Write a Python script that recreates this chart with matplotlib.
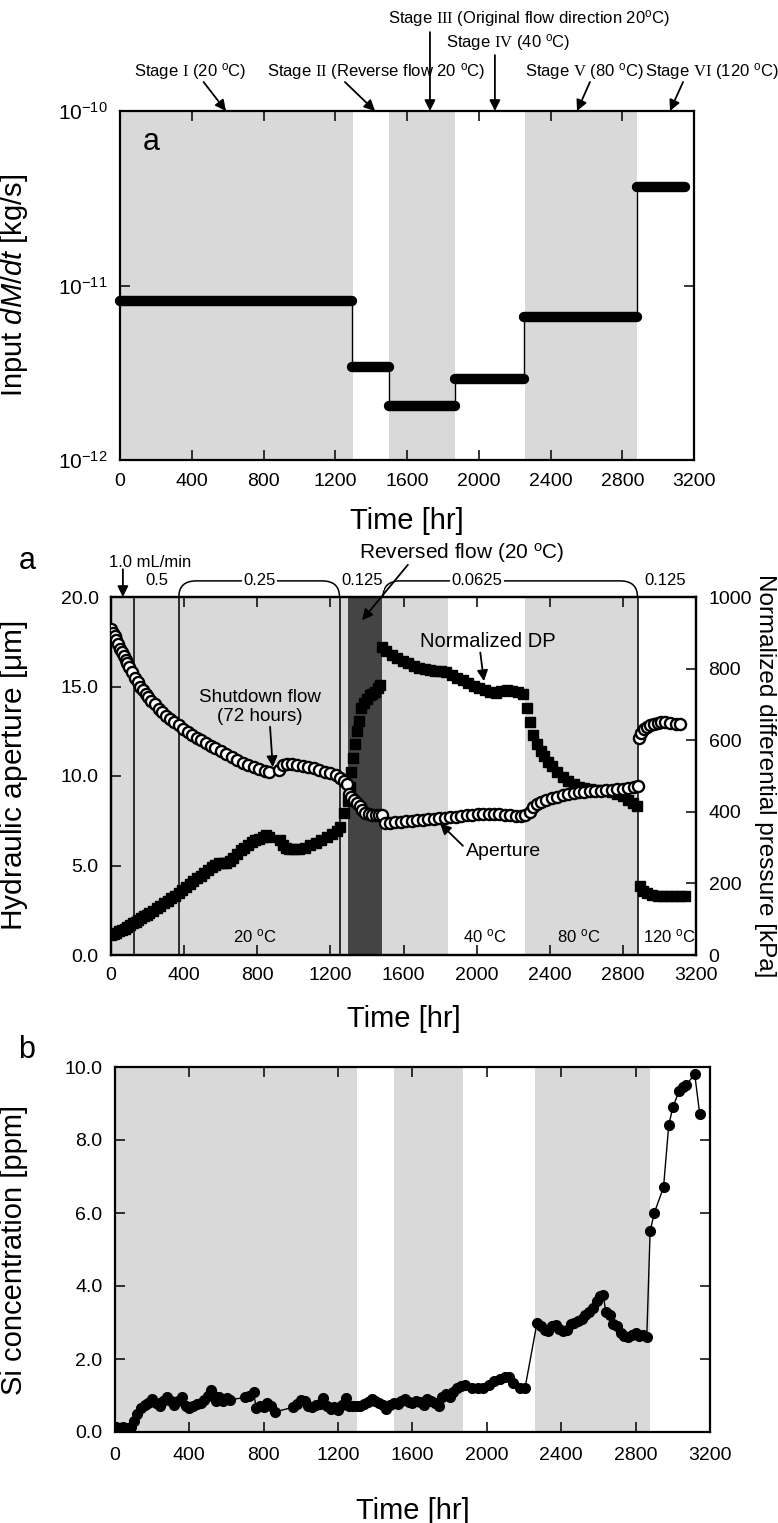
import matplotlib
matplotlib.use("Agg")
import matplotlib.pyplot as plt
from matplotlib.path import Path
from matplotlib.patches import PathPatch
from matplotlib.ticker import NullLocator

plt.rcParams['font.family'] = ['Liberation Sans', 'DejaVu Sans']
plt.rcParams['mathtext.fontset'] = 'custom'
plt.rcParams['mathtext.rm'] = 'Liberation Sans'
plt.rcParams['mathtext.it'] = 'Liberation Sans:italic'
plt.rcParams['mathtext.tt'] = 'Liberation Serif'

# ---- panel 1: input mass rate per stage
flow_start = [0, 1295, 1500, 1870, 2255, 2880]
flow_end = [1295, 1500, 1870, 2255, 2880, 3150]
flow_rate = [8.2e-12, 3.4e-12, 2.05e-12, 2.9e-12, 6.6e-12, 3.65e-11]

stage_text = [r'Stage $\mathtt{I}$ (20 $^{\mathrm{o}}$C)',
              r'Stage $\mathtt{II}$ (Reverse flow 20 $^{\mathrm{o}}$C)',
              r'Stage $\mathtt{III}$ (Original flow direction 20$^{\mathrm{o}}$C)',
              r'Stage $\mathtt{IV}$ (40 $^{\mathrm{o}}$C)',
              r'Stage $\mathtt{V}$ (80 $^{\mathrm{o}}$C)',
              r'Stage $\mathtt{VI}$ (120 $^{\mathrm{o}}$C)']
stage_text_x = [390, 1427, 2280, 2163, 2587, 3300]
stage_text_y = [1.112, 1.112, 1.266, 1.195, 1.112, 1.112]
stage_tail_x = [466, 1254, 1728, 2090, 2620, 3139]
stage_tail_y = [1.083, 1.083, 1.226, 1.160, 1.083, 1.083]
stage_tip_x = [591, 1422, 1728, 2090, 2548, 3066]

# grey bands (panels 1 and 3)
band_start = [0, 1500, 2260]
band_end = [1300, 1870, 2880]

# ---- panel 2: hydraulic aperture [um]
ap_time = [0, 10, 20, 30, 40, 50, 60, 70, 80, 90, 100, 115, 130, 145, 160, 175,
           190, 205, 220, 240, 260, 280, 300, 320, 345, 370, 395, 420, 445, 470,
           495, 520, 545, 570, 600, 630, 660, 690, 720, 750, 780, 810, 840, 865,
           920, 940, 960, 990, 1020, 1050, 1080, 1110, 1140, 1170, 1200, 1230,
           1255, 1275, 1290, 1300, 1315, 1330, 1345, 1360, 1375, 1390, 1410, 1430,
           1450, 1465, 1482, 1500, 1525, 1555, 1585, 1615, 1645, 1675, 1705, 1735,
           1765, 1795, 1825, 1855, 1885, 1915, 1945, 1975, 2005, 2035, 2065, 2095,
           2125, 2155, 2185, 2215, 2245, 2265, 2290, 2310, 2330, 2350, 2380, 2410,
           2440, 2470, 2500, 2530, 2560, 2590, 2620, 2650, 2680, 2710, 2740, 2770,
           2800, 2830, 2860, 2880, 2890, 2900, 2915, 2930, 2950, 2970, 2990, 3010,
           3030, 3060, 3090, 3110]
ap_value = [18.2, 18.0, 17.8, 17.6, 17.35, 17.1, 16.9, 16.7, 16.5, 16.3, 16.1, 15.8,
            15.5, 15.25, 15.0, 14.8, 14.6, 14.4, 14.2, 14.0, 13.75, 13.55, 13.35,
            13.2, 13.0, 12.85, 12.65, 12.45, 12.3, 12.15, 12.0, 11.85, 11.7, 11.55,
            11.4, 11.25, 11.05, 10.9, 10.75, 10.6, 10.5, 10.4, 10.3, 10.25,
            10.35, 10.6, 10.65, 10.65, 10.6, 10.55, 10.5, 10.45, 10.35, 10.25, 10.15,
            10.05, 9.9, 9.7, 9.55, 9.0, 8.8, 8.65, 8.5, 8.3, 8.1, 7.95, 7.85, 7.8,
            7.8, 7.8, 7.8, 7.4, 7.4, 7.45, 7.45, 7.5, 7.5, 7.55, 7.55, 7.6, 7.6,
            7.65, 7.65, 7.7, 7.7, 7.75, 7.8, 7.8, 7.85, 7.85, 7.9, 7.9, 7.85, 7.8,
            7.8, 7.75, 7.75, 7.8, 8.0, 8.25, 8.45, 8.55, 8.65, 8.75, 8.85, 8.95,
            9.0, 9.05, 9.1, 9.1, 9.15, 9.15, 9.15, 9.2, 9.2, 9.25, 9.3, 9.35, 9.4,
            9.45, 12.1, 12.4, 12.6, 12.75, 12.85, 12.9, 12.95, 13.0, 13.0, 12.95,
            12.9, 12.9]

# ---- panel 2: normalized differential pressure [kPa]
dp_time = [0, 15, 30, 45, 60, 75, 90, 105, 120, 135, 150, 165, 180, 195, 210, 230,
           250, 270, 290, 310, 330, 350, 370, 390, 410, 430, 450, 470, 490, 510,
           530, 550, 570, 590, 610, 630, 650, 670, 690, 710, 730, 750, 770, 790,
           810, 830, 850, 865, 925, 940, 955, 975, 1000, 1030, 1060, 1090, 1120,
           1150, 1180, 1210, 1235, 1255, 1275, 1295, 1305, 1315, 1325, 1335, 1345,
           1355, 1370, 1385, 1400, 1415, 1430, 1445, 1460, 1472, 1484, 1505, 1535,
           1565, 1595, 1625, 1655, 1685, 1715, 1745, 1775, 1805, 1835, 1865, 1895,
           1925, 1955, 1985, 2015, 2045, 2075, 2105, 2135, 2165, 2195, 2225, 2255,
           2275, 2290, 2310, 2330, 2350, 2370, 2390, 2410, 2440, 2470, 2500, 2530,
           2560, 2590, 2620, 2650, 2680, 2710, 2740, 2770, 2800, 2830, 2855, 2875,
           2895, 2910, 2930, 2960, 2990, 3020, 3050, 3080, 3110, 3140]
dp_value = [55, 58, 62, 66, 70, 74, 79, 84, 88, 93, 98, 103, 108, 113, 118, 124,
            131, 138, 145, 151, 158, 165, 172, 182, 190, 198, 206, 214, 222, 230,
            238, 246, 252, 256, 256, 258, 262, 272, 282, 292, 300, 308, 315, 320,
            325, 330, 334, 330, 320, 308, 300, 296, 295, 296, 300, 306, 314, 322,
            330, 338, 346, 358, 398, 430, 470, 510, 550, 590, 625, 655, 690, 705,
            715, 725, 730, 735, 745, 755, 860, 850, 838, 830, 822, 815, 808, 802,
            798, 795, 793, 792, 790, 782, 775, 768, 760, 752, 746, 740, 735, 733,
            738, 740, 738, 736, 730, 690, 650, 615, 590, 570, 555, 540, 528, 510,
            497, 487, 478, 470, 466, 463, 461, 460, 458, 456, 450, 443, 433, 424,
            415, 192, 178, 172, 168, 166, 165, 165, 165, 165, 165]

p2_grey_start = [0, 1485, 2265]
p2_grey_end = [1295, 1843, 2880]
p2_dark = [1295, 1485]
flow_change_t = [126, 371, 1250, 2880]
bracket_start = [371, 1488]
bracket_end = [1250, 2880]
rate_label = ['0.5', '0.25', '0.125', '0.0625', '0.125']
rate_label_t = [250, 810, 1373, 2002, 3030]

# ---- panel 3: Si concentration [ppm]
si_time = [5, 25, 45, 65, 85, 100, 120, 140, 160, 180, 200, 220, 240, 260, 280,
           300, 320, 340, 360, 380, 400, 420, 440, 460, 480, 500, 515, 530, 545,
           560, 580, 600, 620, 700, 720, 745, 760, 780, 800, 820, 840, 860, 960,
           980, 1000, 1020, 1040, 1060, 1080, 1100, 1120, 1140, 1160, 1180, 1200,
           1220, 1240, 1260, 1280, 1300, 1320, 1340, 1360, 1380, 1400, 1420, 1440,
           1460, 1480, 1500, 1520, 1540, 1560, 1580, 1600, 1620, 1640, 1660, 1680,
           1700, 1720, 1740, 1760, 1780, 1800, 1820, 1840, 1860, 1880, 1920, 1950,
           1980, 2010, 2040, 2070, 2100, 2120, 2140, 2180, 2205, 2270, 2290, 2310,
           2330, 2350, 2370, 2390, 2410, 2430, 2450, 2470, 2490, 2510, 2530, 2550,
           2570, 2590, 2610, 2625, 2640, 2660, 2680, 2700, 2720, 2740, 2760, 2780,
           2800, 2820, 2840, 2860, 2878, 2900, 2950, 2978, 3000, 3035, 3055, 3070,
           3118, 3145]
si_value = [0.13, 0.12, 0.14, 0.12, 0.15, 0.3, 0.5, 0.65, 0.75, 0.8, 0.9, 0.8, 0.7,
            0.85, 0.95, 0.85, 0.75, 0.85, 0.95, 0.7, 0.65, 0.72, 0.78, 0.8, 0.88,
            1.0, 1.15, 1.0, 0.85, 0.95, 0.85, 0.92, 0.88, 0.95, 0.98, 1.1, 0.65,
            0.7, 0.68, 0.8, 0.72, 0.55, 0.68, 0.78, 0.88, 0.85, 0.7, 0.68, 0.75,
            0.78, 0.92, 0.7, 0.62, 0.68, 0.6, 0.75, 0.92, 0.72, 0.7, 0.72, 0.7,
            0.78, 0.82, 0.9, 0.85, 0.8, 0.75, 0.62, 0.75, 0.8, 0.78, 0.85, 0.9,
            0.82, 0.8, 0.85, 0.82, 0.75, 0.9, 0.85, 0.8, 0.72, 0.95, 1.05, 0.95,
            1.1, 1.2, 1.25, 1.28, 1.2, 1.2, 1.2, 1.3, 1.4, 1.45, 1.52, 1.5, 1.35,
            1.2, 1.2, 3.0, 2.9, 2.8, 2.78, 2.9, 2.92, 2.82, 2.78, 2.8, 2.95, 3.0,
            3.05, 3.1, 3.2, 3.3, 3.4, 3.6, 3.72, 3.75, 3.3, 3.2, 2.95, 2.9, 2.7,
            2.62, 2.6, 2.65, 2.72, 2.62, 2.65, 2.6, 5.5, 6.0, 6.7, 8.4, 8.9, 9.35,
            9.45, 9.5, 9.8, 8.7]

time_ticks = [0, 400, 800, 1200, 1600, 2000, 2400, 2800, 3200]
grey = '#d9d9d9'
W, H = 778.0, 1523.0


def px_axes(left, top, right, bottom):
    return [left / W, 1 - bottom / H, (right - left) / W, (bottom - top) / H]


def style(ax):
    for s in ax.spines.values():
        s.set_linewidth(1.6)
    ax.tick_params(direction='in', length=7, width=1.1, labelsize=14, pad=9,
                   top=True, right=True)
    ax.set_xlim(0, 3200)
    ax.set_xticks(time_ticks)


def arrow(ax, tip, tail, **kw):
    ax.annotate('', xy=tip, xytext=tail,
                arrowprops=dict(arrowstyle='-|>', color='k', lw=1.3,
                                mutation_scale=16, shrinkA=0, shrinkB=0),
                annotation_clip=False, **kw)


fig = plt.figure(figsize=(W / 100, H / 100), dpi=100)

# ================= panel 1
ax1 = fig.add_axes(px_axes(120, 111, 694, 460))
style(ax1)
ax1.set_yscale('log')
ax1.set_ylim(1e-12, 1e-10)
ax1.set_yticks([1e-12, 1e-11, 1e-10])
ax1.yaxis.set_minor_locator(NullLocator())
ax1.tick_params(axis='y', labelsize=15)
for s, e in zip(band_start, band_end):
    ax1.axvspan(s, e, color=grey, lw=0, zorder=0)
ax1.step(flow_start + [flow_end[-1]], flow_rate + [flow_rate[-1]], where='post',
         color='k', lw=1.0, zorder=2)
for s, e, v in zip(flow_start, flow_end, flow_rate):
    ax1.plot([s, e], [v, v], color='k', lw=7.5, solid_capstyle='round', zorder=3,
             clip_on=False)
ax1.set_ylabel(r'Input $\mathit{dM/dt}$ [kg/s]', fontsize=21)
ax1.yaxis.set_label_coords(-0.157, 0.5)
ax1.set_xlabel('Time [hr]', fontsize=21)
ax1.xaxis.set_label_coords(0.5, -0.135)
ax1.text(0.054, 0.91, 'a', transform=ax1.transAxes, fontsize=22, ha='center',
         va='center')
tr = ax1.get_xaxis_transform()
for txt, tx, ty in zip(stage_text, stage_text_x, stage_text_y):
    ax1.text(tx, ty, txt, transform=tr, ha='center', va='center', fontsize=12,
             clip_on=False)
for x0, y0, x1 in zip(stage_tail_x, stage_tail_y, stage_tip_x):
    arrow(ax1, (x1, 1.0), (x0, y0), xycoords=tr, textcoords=tr)

# ================= panel 2
ax2 = fig.add_axes(px_axes(111, 597, 696, 955))
style(ax2)
ax2.tick_params(right=False)
ax2.set_ylim(0, 20)
ax2.set_yticks([0, 5, 10, 15, 20])
ax2.set_yticklabels(['%.1f' % v for v in [0, 5, 10, 15, 20]])
for s, e in zip(p2_grey_start, p2_grey_end):
    ax2.axvspan(s, e, color=grey, lw=0, zorder=0)
ax2.axvspan(p2_dark[0], p2_dark[1], color='#444444', lw=0, zorder=0)
for t in flow_change_t:
    ax2.axvline(t, color='k', lw=1.1, zorder=1)

ax2r = ax2.twinx()
ax2r.set_ylim(0, 1000)
ax2r.set_yticks([0, 200, 400, 600, 800, 1000])
ax2r.tick_params(direction='in', length=7, width=1.1, labelsize=14, pad=9)
for s in ax2r.spines.values():
    s.set_linewidth(1.6)
ax2r.plot(dp_time, dp_value, 's', color='k', ms=7, zorder=3)
ax2r.plot(ap_time, [v * 50 for v in ap_value], 'o', mfc='white', mec='k', mew=1.7,
          ms=8, zorder=4)
ax2r.set_ylabel('Normalized differential pressure [kPa]', fontsize=17.5,
                rotation=270, va='center', ha='center')
ax2r.yaxis.set_label_coords(1.118, 0.5)
ax2.set_ylabel(r'Hydraulic aperture [$\mathrm{\mu}$m]', fontsize=21.5)
ax2.yaxis.set_label_coords(-0.138, 0.5)
ax2.set_xlabel('Time [hr]', fontsize=21)
ax2.xaxis.set_label_coords(0.5, -0.14)

# flow rate brackets above panel 2
top = 20.9
for x0, x1 in zip(bracket_start, bracket_end):
    verts = [(x0, 20), (x0, top), (x0 + 95, top), (x1 - 95, top), (x1, top),
             (x1, 20)]
    codes = [Path.MOVETO, Path.CURVE3, Path.CURVE3, Path.LINETO, Path.CURVE3,
             Path.CURVE3]
    ax2.add_patch(PathPatch(Path(verts, codes), fill=False, lw=1.1, color='k',
                            clip_on=False))
box = dict(facecolor='white', edgecolor='none', pad=1)
for tx, s in zip(rate_label_t, rate_label):
    ax2.text(tx, top, s, ha='center', va='center', fontsize=12, bbox=box,
             clip_on=False, zorder=5)
ax2.text(-10, 21.95, '1.0 mL/min', ha='left', va='center', fontsize=12,
         clip_on=False)
arrow(ax2, (65, 20), (65, 21.55))
ax2.text(1920, 22.45, r'Reversed flow (20 $^{\mathrm{o}}$C)', ha='center',
         va='center', fontsize=15, clip_on=False)
arrow(ax2, (1373, 18.7), (1624, 21.8))

ax2.text(815, 13.85, 'Shutdown flow\n(72 hours)', ha='center', va='center',
         fontsize=13.5, linespacing=1.1, zorder=6)
arrow(ax2, (885, 10.5), (870, 12.75))
ax2.text(2063, 17.5, 'Normalized DP', ha='center', va='center', fontsize=14.5)
arrow(ax2, (2040, 15.3), (2020, 16.9))
ax2.text(2148, 5.8, 'Aperture', ha='center', va='center', fontsize=14)
arrow(ax2, (1800, 7.35), (1925, 6.1))
for tx, s in zip([786, 2042, 2561, 3052], ['20', '40', '80', '120']):
    ax2.text(tx, 1.05, s + r' $^{\mathrm{o}}$C', ha='center', va='center',
             fontsize=12)
fig.text(27 / W, 1 - 561 / H, 'a', fontsize=22, ha='center', va='center')

# ================= panel 3
ax3 = fig.add_axes(px_axes(115, 1067, 710, 1432))
style(ax3)
ax3.tick_params(axis='x', pad=11)
ax3.set_ylim(0, 10)
ax3.set_yticks([0, 2, 4, 6, 8, 10])
ax3.set_yticklabels(['%.1f' % v for v in [0, 2, 4, 6, 8, 10]])
for s, e in zip(band_start, band_end):
    ax3.axvspan(s, e, color=grey, lw=0, zorder=0)
ax3.plot(si_time, si_value, '-o', color='k', lw=1.0, ms=7, zorder=3)
ax3.set_ylabel('Si concentration [ppm]', fontsize=21)
ax3.yaxis.set_label_coords(-0.146, 0.5)
ax3.set_xlabel('Time [hr]', fontsize=21)
ax3.xaxis.set_label_coords(0.5, -0.178)
fig.text(27 / W, 1 - 1050 / H, 'b', fontsize=22, ha='center', va='center')

fig.savefig('out.png', dpi=100)
